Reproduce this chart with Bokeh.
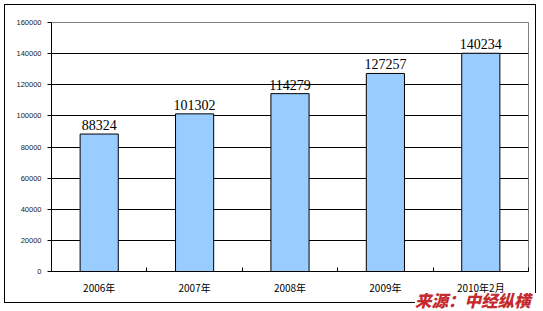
from bokeh.plotting import figure
from bokeh.models import FixedTicker, Range1d, ColumnDataSource, LabelSet, Div
from bokeh.layouts import column
from bokeh.embed import file_html
from bokeh.resources import INLINE

categories = ["2006年", "2007年", "2008年", "2009年", "2010年2月"]
values = [88324, 101302, 114279, 127257, 140234]
y_ticks = [0, 20000, 40000, 60000, 80000, 100000, 120000, 140000, 160000]
source_text = "来源：中经纵横"

xs = [i + 0.5 for i in range(len(categories))]
src = ColumnDataSource(dict(x=xs, top=values, lab=[str(v) for v in values]))

p = figure(width=532, height=299, output_backend="svg", toolbar_location=None,
           x_range=Range1d(0, len(categories)), y_range=Range1d(0, 160000),
           min_border_left=46, min_border_right=9, min_border_top=17, min_border_bottom=33)
p.styles = {"border": "1.5px solid black", "margin-left": "4px", "margin-top": "4px",
            "box-sizing": "border-box"}
p.background_fill_color = "white"
p.border_fill_color = "white"
p.outline_line_color = "#808080"
p.outline_line_width = 1

p.vbar(x="x", top="top", width=0.4, bottom=0, source=src,
       fill_color="#99CCFF", line_color="black", line_width=1)

labels = LabelSet(x="x", y="top", text="lab", source=src, text_align="center",
                  text_baseline="bottom", y_offset=4, text_font="Liberation Serif",
                  text_font_size="14px", text_color="black")
p.add_layout(labels)

p.xgrid.visible = False
p.ygrid.ticker = FixedTicker(ticks=y_ticks[1:-1])
p.ygrid.grid_line_color = "black"
p.ygrid.grid_line_width = 1

xa = p.xaxis[0]
xa.ticker = FixedTicker(ticks=xs, minor_ticks=list(range(0, len(categories) + 1)))
xa.major_label_overrides = {x: c for x, c in zip(xs, categories)}
xa.major_tick_in = 0
xa.major_tick_out = 0
xa.minor_tick_in = 4
xa.minor_tick_out = 0
xa.minor_tick_line_color = "black"
xa.axis_line_color = "black"
xa.major_label_text_font = "Noto Sans CJK SC"
xa.major_label_text_font_size = "10px"
xa.major_label_text_color = "black"
xa.major_label_standoff = 8

ya = p.yaxis[0]
ya.ticker = FixedTicker(ticks=y_ticks, minor_ticks=[])
ya.major_tick_in = 0
ya.major_tick_out = 4
ya.major_tick_line_color = "black"
ya.axis_line_color = "black"
ya.major_label_text_font = "Liberation Sans"
ya.major_label_text_font_size = "7.5px"
ya.major_label_text_color = "#222222"
ya.major_label_standoff = 6
ya.formatter.use_scientific = False

d = Div(text=source_text, width=124, height=16,
        styles={"position": "absolute", "left": "410px", "top": "288px",
                "font-family": "Noto Sans CJK SC", "font-weight": "900",
                "font-style": "italic", "font-size": "16.5px", "color": "#C42A2E",
                "line-height": "15px", "white-space": "nowrap", "z-index": "10",
                "background-color": "white", "overflow": "visible"})

layout = column(p, d)
open("out.html", "w").write(file_html(layout, INLINE))
